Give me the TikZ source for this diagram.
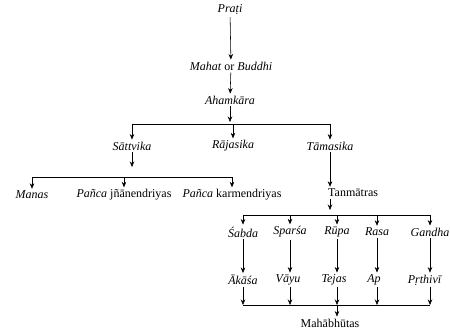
\documentclass[tikz,border=0pt]{standalone}
\usepackage{fontspec}
\setmainfont{Liberation Serif}
\newfontfamily\lblfont{Liberation Serif}
\usetikzlibrary{arrows.meta}

\tikzset{
  lbl/.style={inner sep=2pt, font=\lblfont\fontsize{12}{14}\selectfont},
  link/.style={->, line width=0.55pt},
  bus/.style={line width=0.55pt}
}

\begin{document}
\begin{tikzpicture}[x=1pt, y=-1pt, >={Stealth[length=5.5pt,width=4.5pt]}]

\useasboundingbox (0,0) rectangle (450,336);

% Top chain
\node[lbl] (prati) at (230,10) {\textit{Praṭi}};
\node[lbl] (mahat) at (231,66) {\textit{Mahat} or \textit{Buddhi}};
\node[lbl] (ahamkara) at (230,100) {\textit{Ahamkāra}};
\draw[link] (prati) -- (mahat);
\draw[link] (mahat) -- (ahamkara);

% Three gunas
\node[lbl] (sattvika) at (132,146) {\textit{Sāttvika}};
\node[lbl] (rajasika) at (233,146) {\textit{Rājasika}};
\node[lbl] (tamasika) at (330,146) {\textit{Tāmasika}};
\coordinate (ahamEnd) at (230,122);
\coordinate (busA) at (0,124);
\draw[link] (ahamkara) -- (ahamEnd);
\draw[bus] (sattvika |- busA) -- (tamasika |- busA);
\foreach \n in {sattvika, rajasika, tamasika} {
  \draw[link] (\n |- busA) -- (\n);
}

% Sattvika branch
\node[lbl] (manas) at (32,195) {\textit{Manas}};
\node[lbl] (jnana) at (124,195) {\textit{Pañca} jñānendriyas};
\node[lbl] (karma) at (232,195) {\textit{Pañca} karmendriyas};
\coordinate (sattEnd) at (132,167);
\coordinate (busB) at (0,177);
\draw[link] (sattvika) -- (sattEnd);
\draw[bus] (manas |- busB) -- (karma |- busB);
\foreach \n in {manas, jnana, karma} {
  \draw[link] (\n |- busB) -- (\n);
}

% Tamasika branch
\node[lbl, anchor=west] (tanmatras) at (326,193) {Tanmātras};
\draw[link] (tamasika) -- (tamasika |- tanmatras.north);
\coordinate (tanEnd) at (330,210);
\coordinate (busC) at (0,215);
\draw[link] (tamasika |- tanmatras.south) -- (tanEnd);

% Subtle elements and gross elements
\node[lbl] (sabda) at (243,232) {\textit{Śabda}};
\node[lbl] (sparsa) at (290,232) {\textit{Sparśa}};
\node[lbl] (rupa) at (337,232) {\textit{Rūpa}};
\node[lbl] (rasa) at (377,232) {\textit{Rasa}};
\node[lbl] (gandha) at (430,232) {\textit{Gandha}};
\node[lbl] (akasa) at (243,280) {\textit{Ākāśa}};
\node[lbl] (vayu) at (288,280) {\textit{Vāyu}};
\node[lbl] (tejas) at (334,280) {\textit{Tejas}};
\node[lbl] (ap) at (374,280) {\textit{Ap}};
\node[lbl] (prthivi) at (425,280) {\textit{Pṛthivī}};
\draw[bus] (sabda |- busC) -- (gandha |- busC);
\foreach \a/\b in {sabda/akasa, sparsa/vayu, rupa/tejas, rasa/ap, gandha/prthivi} {
  \draw[link] (\a |- busC) -- (\a);
  \draw[link] (\a) -- (\a |- \b.north);
}

% Mahabhutas
\node[lbl] (bhutas) at (330,323) {Mahābhūtas};
\coordinate (busD) at (0,305);
\draw[bus] (sabda |- busD) -- (gandha |- busD);
\foreach \a/\b in {sabda/akasa, sparsa/vayu, rupa/tejas, rasa/ap, gandha/prthivi} {
  \draw[link] (\a |- \b.south) -- (\a |- busD);
}
\draw[link] (rupa |- busD) -- (rupa |- bhutas.north);

\end{tikzpicture}
\end{document}
